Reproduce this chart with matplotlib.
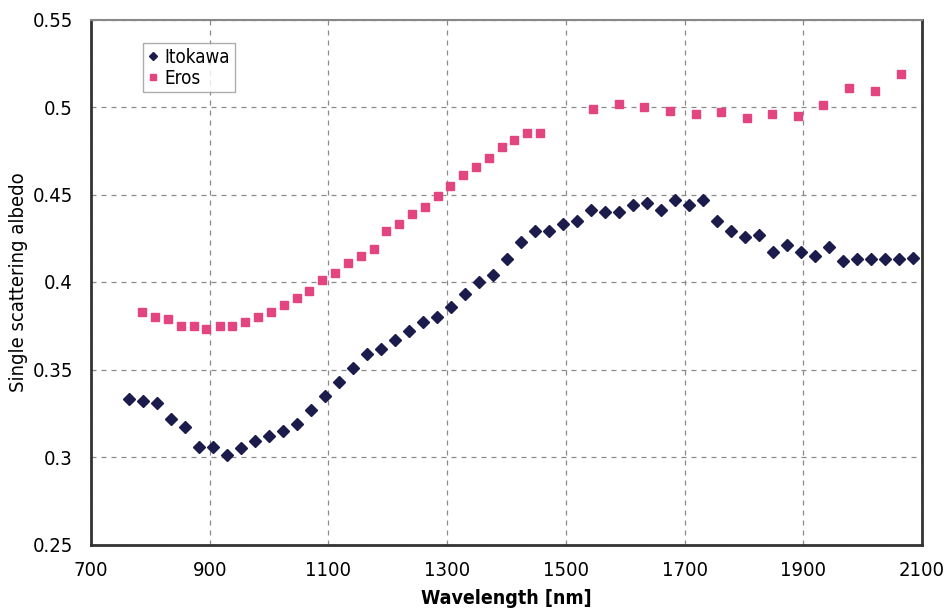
import matplotlib
matplotlib.use("Agg")
import matplotlib.pyplot as plt

# Itokawa (diamonds)
itokawa_wl = [764, 787, 811, 834, 858, 882, 905, 929, 953, 976, 1000, 1023, 1047, 1071,
              1095, 1118, 1142, 1165, 1189, 1212, 1236, 1260, 1283, 1306, 1330, 1354,
              1377, 1401, 1425, 1448, 1472, 1495, 1519, 1542, 1566, 1590, 1613, 1637,
              1660, 1684, 1708, 1731, 1754, 1778, 1801, 1825, 1849, 1873, 1896, 1920,
              1943, 1967, 1990, 2014, 2038, 2061, 2085]
itokawa_alb = [0.333, 0.332, 0.331, 0.322, 0.317, 0.306, 0.306, 0.301, 0.305, 0.309,
               0.312, 0.315, 0.319, 0.327, 0.335, 0.343, 0.351, 0.359, 0.362, 0.367,
               0.372, 0.377, 0.380, 0.386, 0.393, 0.400, 0.404, 0.413, 0.423, 0.429,
               0.429, 0.433, 0.435, 0.441, 0.440, 0.440, 0.444, 0.445, 0.441, 0.447,
               0.444, 0.447, 0.435, 0.429, 0.426, 0.427, 0.417, 0.421, 0.417, 0.415,
               0.420, 0.412, 0.413, 0.413, 0.413, 0.413, 0.414]

# Eros (squares)
eros_wl = [786, 808, 830, 852, 873, 894, 917, 938, 960, 982, 1003, 1025, 1047, 1068,
           1090, 1111, 1133, 1155, 1176, 1197, 1219, 1241, 1262, 1284, 1305, 1327,
           1349, 1370, 1392, 1413, 1435, 1457, 1545, 1589, 1632, 1675, 1719, 1761,
           1805, 1848, 1891, 1934, 1977, 2020, 2064]
eros_alb = [0.383, 0.380, 0.379, 0.375, 0.375, 0.373, 0.375, 0.375, 0.377, 0.380,
            0.383, 0.387, 0.391, 0.395, 0.401, 0.405, 0.411, 0.415, 0.419, 0.429,
            0.433, 0.439, 0.443, 0.449, 0.455, 0.461, 0.466, 0.471, 0.477, 0.481,
            0.485, 0.485, 0.499, 0.502, 0.500, 0.498, 0.496, 0.497, 0.494, 0.496,
            0.495, 0.501, 0.511, 0.509, 0.519]

x_ticks = [700, 900, 1100, 1300, 1500, 1700, 1900, 2100]
y_ticks = [0.25, 0.3, 0.35, 0.4, 0.45, 0.5, 0.55]
y_tick_labels = ["0.25", "0.3", "0.35", "0.4", "0.45", "0.5", "0.55"]

fnt = "DejaVu Sans"
st = "condensed"

fig = plt.figure(figsize=(9.46, 6.11), dpi=100)
ax = fig.add_axes([91 / 946, 66.5 / 611, 831 / 946, 525 / 611])

ax.plot(itokawa_wl, itokawa_alb, linestyle="none", marker="D", markersize=6,
        color="#1c1c4c", label="Itokawa")
ax.plot(eros_wl, eros_alb, linestyle="none", marker="s", markersize=5.5,
        color="#e2457f", label="Eros")

ax.set_xlim(700, 2100)
ax.set_ylim(0.25, 0.55)
ax.set_xticks(x_ticks)
ax.set_yticks(y_ticks)
ax.set_xticklabels([str(t) for t in x_ticks], family=fnt, stretch=st, fontsize=14.5)
ax.set_yticklabels(y_tick_labels, family=fnt, stretch=st, fontsize=14.5)
ax.tick_params(axis="y", length=0, pad=13)
ax.tick_params(axis="x", length=0, pad=12)

ax.grid(True, color="#8a8a8a", linestyle=(0, (4, 4)), linewidth=0.9)
ax.set_axisbelow(True)

for side in ["left", "bottom", "right"]:
    ax.spines[side].set_color("#333333")
    ax.spines[side].set_linewidth(2)
ax.spines["top"].set_color("#888888")
ax.spines["top"].set_linewidth(1.5)

ax.set_xlabel("Wavelength [nm]", family=fnt, stretch=st, fontsize=14,
              fontweight="bold", labelpad=6)
ax.set_ylabel("Single scattering albedo", family=fnt, stretch=st, fontsize=14.5,
              labelpad=3)

leg = ax.legend(loc="upper left", bbox_to_anchor=(0.0626, 0.955), borderaxespad=0,
                frameon=True, fancybox=False, edgecolor="#999999",
                handletextpad=0.3, handlelength=0.6, borderpad=0.25,
                labelspacing=0.1, markerscale=0.75,
                prop={"family": fnt, "stretch": st, "size": 13.5})
leg.get_frame().set_linewidth(1)

fig.savefig("out.png", dpi=100)
